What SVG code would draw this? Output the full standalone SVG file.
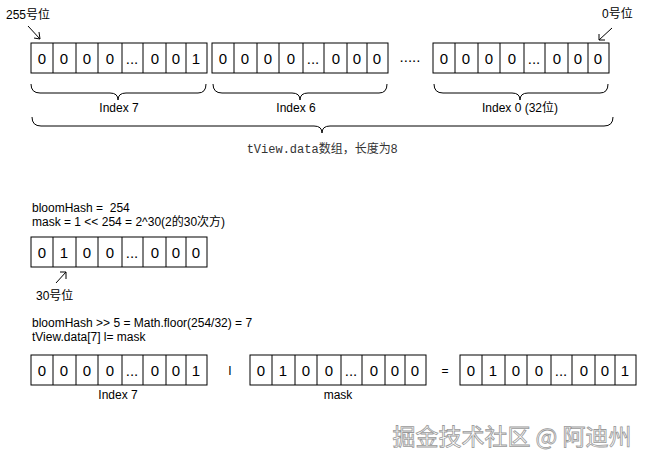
<svg xmlns="http://www.w3.org/2000/svg" width="650" height="465" viewBox="0 0 650 465">
<style>
.c{fill:#fff;stroke:#000;stroke-width:1}
.d{font-family:"Liberation Sans",Arial,sans-serif;font-size:15px;text-anchor:middle;fill:#000}
.t{font-family:"Liberation Sans","Noto Sans CJK SC",sans-serif;font-size:12px;fill:#000}
.b{fill:none;stroke:#000;stroke-width:1}
</style>
<defs>
<g id="arr">
<rect class="c" x="0" y="0" width="176" height="30"/>
<path class="b" d="M22 0V30M45 0V30M67 0V30M91 0V30M112 0V30M135 0V30M155 0V30"/>
</g>
</defs>
<g id="top-arrays">
<use href="#arr" x="31" y="43"/>
<g class="d"><text x="42" y="64">0</text><text x="64" y="64">0</text><text x="87" y="64">0</text><text x="110" y="64">0</text><text x="132" y="64">...</text><text x="155" y="64">0</text><text x="176" y="64">0</text><text x="196" y="64">1</text></g>
<use href="#arr" x="212" y="43"/>
<g class="d"><text x="223" y="64">0</text><text x="245" y="64">0</text><text x="268" y="64">0</text><text x="291" y="64">0</text><text x="313" y="64">...</text><text x="336" y="64">0</text><text x="357" y="64">0</text><text x="377" y="64">0</text></g>
<text class="d" x="410" y="62">.....</text>
<use href="#arr" x="433" y="43"/>
<g class="d"><text x="444" y="64">0</text><text x="466" y="64">0</text><text x="489" y="64">0</text><text x="512" y="64">0</text><text x="534" y="64">...</text><text x="557" y="64">0</text><text x="578" y="64">0</text><text x="598" y="64">0</text></g>
</g>
<g id="labels-top">
<text class="t" x="6" y="19">255号位</text>
<path class="b" d="M28 26L40 39M34 38L40 39L39 32"/>
<text class="t" x="602" y="18">0号位</text>
<path class="b" d="M612 28L599 40M599 34L599 40L605 40"/>
</g>
<g id="braces">
<path class="b" d="M31 84Q31 93 40 93H110Q118 93 118 100Q118 93 126 93H198Q206 93 206 84"/>
<text class="t" x="119" y="112" text-anchor="middle">Index 7</text>
<path class="b" d="M213 84Q213 93 222 93H292Q300 93 300 100Q300 93 308 93H379Q387 93 387 84"/>
<text class="t" x="296" y="112" text-anchor="middle">Index 6</text>
<path class="b" d="M434 84Q434 93 443 93H512Q520 93 520 100Q520 93 528 93H600Q608 93 608 84"/>
<text class="t" x="520" y="112" text-anchor="middle">Index 0 (32位)</text>
<path class="b" d="M32 117Q32 126 41 126H314Q322 126 322 133Q322 126 330 126H604Q613 126 613 117"/>
<text x="322" y="153" text-anchor="middle" font-size="12" fill="#333"><tspan font-family="'Liberation Mono',monospace">tView.data</tspan><tspan font-family="'Liberation Sans','Noto Sans CJK SC',sans-serif">数组，长度为8</tspan></text>
</g>
<g id="mask">
<text class="t" x="32" y="212" xml:space="preserve">bloomHash =  254</text>
<text class="t" x="32" y="226">mask = 1 &lt;&lt; 254 = 2^30(2的30次方)</text>
<use href="#arr" x="31" y="237"/>
<g class="d"><text x="42" y="258">0</text><text x="64" y="258">1</text><text x="87" y="258">0</text><text x="110" y="258">0</text><text x="132" y="258">...</text><text x="155" y="258">0</text><text x="176" y="258">0</text><text x="196" y="258">0</text></g>
<path class="b" d="M56 283L66 272M60 272L66 272L66 279"/>
<text class="t" x="36" y="300">30号位</text>
</g>
<g id="op">
<text class="t" x="32" y="327">bloomHash &gt;&gt; 5 = Math.floor(254/32) = 7</text>
<text class="t" x="32" y="341">tView.data[7] l= mask</text>
<use href="#arr" x="31" y="355"/>
<g class="d"><text x="42" y="376">0</text><text x="64" y="376">0</text><text x="87" y="376">0</text><text x="110" y="376">0</text><text x="132" y="376">...</text><text x="155" y="376">0</text><text x="176" y="376">0</text><text x="196" y="376">1</text></g>
<text class="t" x="230" y="375" text-anchor="middle">I</text>
<use href="#arr" x="250" y="355"/>
<g class="d"><text x="261" y="376">0</text><text x="283" y="376">1</text><text x="306" y="376">0</text><text x="329" y="376">0</text><text x="351" y="376">...</text><text x="374" y="376">0</text><text x="395" y="376">0</text><text x="415" y="376">0</text></g>
<text class="t" x="445" y="375" text-anchor="middle">=</text>
<use href="#arr" x="460" y="355"/>
<g class="d"><text x="471" y="376">0</text><text x="493" y="376">1</text><text x="516" y="376">0</text><text x="539" y="376">0</text><text x="561" y="376">...</text><text x="584" y="376">0</text><text x="605" y="376">0</text><text x="625" y="376">1</text></g>
<text class="t" x="118" y="399" text-anchor="middle">Index 7</text>
<text class="t" x="338" y="399" text-anchor="middle">mask</text>
</g>
<text x="512" y="445" text-anchor="middle" font-family="'Noto Sans CJK SC',sans-serif" font-size="23" fill="#fff" stroke="#999" stroke-width="0.8">掘金技术社区 @ 阿迪州</text>
</svg>
